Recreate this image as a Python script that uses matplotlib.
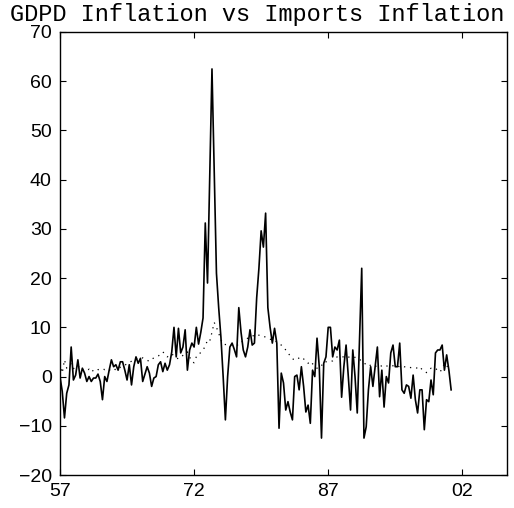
import numpy as np
import matplotlib
matplotlib.use('Agg')
from matplotlib import pyplot as plt

# quarterly, 1957Q1 .. 2000Q4
start_year = 1957
imports_infl = [
    0, -3, -8.4, -3.4, -1.7, 6, -0.7, 0.3, 3.4, -0.3, 1.7, 0.7, -1, 0, -1, -0.3,
    -0.3, 0.5, -1, -4.7, 0, -1, 1.3, 3.4, 2, 2.4, 1.3, 3, 3, 1.3, -0.7, 2.4,
    -1.7, 2, 4, 2.7, 3.7, -1, 0.5, 2, 0.7, -2, -0.3, 0, 2.4, 3, 1, 2.7,
    1.3, 2.4, 5, 10, 4, 9.8, 4.8, 6, 9.5, 1.3, 5.4, 6.8, 6,
    10, 6.6, 9, 11.9, 31.2, 19, 41, 62.5, 42, 21, 14, 8, 0, -8.8, 0, 6,
    6.8, 5.5, 4, 14, 9, 5.4, 4, 6, 9.5, 6.4, 6.8, 16, 22, 29.6, 26.3, 33.2,
    14, 10,
    6.8, 9.8, 6.8, -10.5, 0.7, -1.3, -6.8, -5.1, -7.2, -8.8, 0, 0.3, -2.7, 2,
    -2, -7.2, -5.8, -9.5, 1.3, 0, 7.8, 2, -12.5, 2.7, 4, 10, 10, 4, 6, 5.4, 7.4,
    -4.2, 2, 6.4, 0, -6.8, 5.4, 0, -7.4, 7, 22, -12.5, -10.2, -2.7, 2, -2, 2,
    6, -4.1, 1.3, -6.2, 0, -1.3, 4.8, 6.4, 2, 2, 6.8, -2.7,
    -3.4, -1.7, -2, -4.4, 0.3, -4.7, -7.4, -2.7, -2.7, -10.8, -4.7, -5.1,
    -0.7, -3.7, 4.8, 5.4, 5.4, 6.4, 1.3, 4.4, 1.3, -2.7,
]
gdpd_infl = [
    2.7, 0.7, 3.4, 1.7,  2.2, 2.6, 1.6, 2.0,  2.2, 1.6, 1.2, 1.4,
    1.2, 1.5, 0.9, 1.3,  1.1, 1.4, 1.5, 1.6,  1.4, 1.6, 1.3, 1.5,
    1.7, 1.3, 1.5, 1.9,  2.0, 2.3, 2.6, 2.9,  3.1, 3.3, 3.6, 3.8,
    3.7, 3.8, 3.5, 3.3,  3.1, 3.5, 3.8, 4.0,  4.2, 4.5, 5.0, 4.6,
    4.0, 4.3, 4.6, 4.2,  3.8, 3.6, 3.9, 4.3,  4.6, 5.0, 4.0, 3.0,
    2.8, 4.0, 4.2, 5.0,  5.4, 6.2, 7.4, 7.2,  9.0, 11.0, 10.0, 8.8,
    7.5, 6.6, 6.5, 6.6,  6.6, 6.4, 6.5, 6.4,  6.4, 7.0, 7.2, 7.5,
    7.8, 8.0, 8.2, 8.4,  8.6, 8.4, 8.4, 8.2,  8.0, 7.8, 7.6, 7.4,
    7.4, 7.0, 6.6, 6.4,  6.0, 5.4, 4.8, 4.2,  3.6, 3.4, 3.4, 3.8,
    4.0, 3.6, 3.0, 2.7,  3.1, 2.6, 2.0, 1.7,  1.7, 2.2, 3.0, 3.0,
    3.0, 3.0, 3.2, 3.6,  4.0, 4.1, 4.0, 4.0,  4.2, 4.0, 3.8, 3.9,
    3.9, 3.8, 3.6, 3.0,  2.8, 2.4, 2.6, 2.2,  2.0, 2.0, 2.3, 2.0,
    2.2, 2.4, 2.2, 2.0,  2.0, 2.2, 2.3, 2.1,  2.0, 2.2, 2.0, 1.9,
    2.0, 1.8, 1.7, 1.8,  1.7, 2.0, 1.4, 1.2,  0.8, 1.2, 1.7, 1.6,
    1.7, 1.2, 0.9, 1.6,  2.7, 2.2, 1.7, 2.0,
]
xticks = [1957, 1972, 1987, 2002]
xticklabels = ['57', '72', '87', '02']
yticks = list(range(-20, 71, 10))

dates = start_year + 0.25 * np.arange(len(imports_infl))

fig = plt.figure(figsize=(5.14, 5.08), dpi=100)
ax = fig.add_axes([60 / 514, 33 / 508, 447 / 514, 443 / 508])

ax.plot(dates, gdpd_infl, color='black', lw=0.9, linestyle=(0, (1, 4)))
ax.plot(dates, imports_infl, color='black', lw=1.2)

ax.set_xlim(1957, 2007)
ax.set_ylim(-20, 70)
ax.set_xticks(xticks)
ax.set_xticklabels(xticklabels)
ax.set_yticks(yticks)

ax.tick_params(direction='in', length=4, width=0.8, top=True, right=True,
               labelsize=14, pad=6)
for lab in ax.get_xticklabels() + ax.get_yticklabels():
    lab.set_fontfamily('Liberation Sans')
for s in ax.spines.values():
    s.set_linewidth(1.0)

fig.text(0.5, 0.995, 'GDPD Inflation vs Imports Inflation', ha='center', va='top',
         fontsize=17, family='Liberation Mono')

fig.savefig('out.png', dpi=100)
